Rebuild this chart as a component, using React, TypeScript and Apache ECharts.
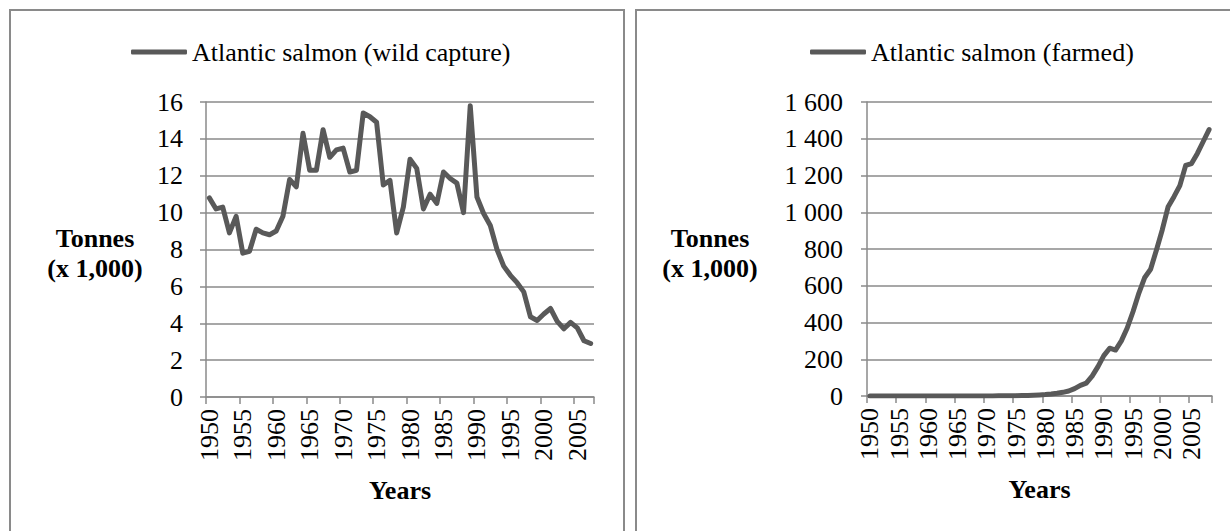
import React, { useEffect, useRef } from "react";
import * as echarts from "echarts";

const yearsWild = [
  "1950","1951","1952","1953","1954","1955","1956","1957","1958","1959",
  "1960","1961","1962","1963","1964","1965","1966","1967","1968","1969",
  "1970","1971","1972","1973","1974","1975","1976","1977","1978","1979",
  "1980","1981","1982","1983","1984","1985","1986","1987","1988","1989",
  "1990","1991","1992","1993","1994","1995","1996","1997","1998","1999",
  "2000","2001","2002","2003","2004","2005","2006","2007",
];
const yearsFarmed = [
  "1950","1951","1952","1953","1954","1955","1956","1957","1958","1959",
  "1960","1961","1962","1963","1964","1965","1966","1967","1968","1969",
  "1970","1971","1972","1973","1974","1975","1976","1977","1978","1979",
  "1980","1981","1982","1983","1984","1985","1986","1987","1988","1989",
  "1990","1991","1992","1993","1994","1995","1996","1997","1998","1999",
  "2000","2001","2002","2003","2004","2005","2006","2007","2008",
];

const wildCapture = [
  10.8, 10.2, 10.3, 8.9, 9.8, 7.8, 7.9, 9.1, 8.9, 8.8,
  9.0, 9.8, 11.8, 11.4, 14.3, 12.3, 12.3, 14.5, 13.0, 13.4,
  13.5, 12.2, 12.3, 15.4, 15.2, 14.9, 11.5, 11.75, 8.9, 10.3,
  12.9, 12.4, 10.2, 11.0, 10.5, 12.2, 11.85, 11.6, 10.0, 15.8,
  10.85, 9.95, 9.3, 8.0, 7.1, 6.6, 6.2, 5.7, 4.35, 4.15,
  4.5, 4.8, 4.1, 3.7, 4.05, 3.75, 3.05, 2.9,
];

const farmed = [
  0, 0, 0, 0, 0, 0, 0, 0, 0, 0,
  0, 0, 0, 0, 0, 0, 0, 0, 0, 0,
  0.3, 0.5, 0.9, 1.3, 1.6, 2, 2.5, 3.2, 4.5, 6,
  8, 11, 15, 20, 27, 40, 58, 70, 108, 160,
  220, 260, 250, 300, 370, 460, 560, 645, 690, 795,
  905, 1030, 1085, 1145, 1255, 1265, 1320, 1385, 1450,
];

const wildName = "Atlantic salmon (wild capture)";
const farmedName = "Atlantic salmon (farmed)";
const yTitle = "Tonnes\n(x 1,000)";
const xTitle = "Years";

const FONT = '"Liberation Serif", "Times New Roman", serif';
const GRID_COLOR = "#8a8a8a";
const LINE_COLOR = "#595959";

function fmtSpace(v: number): string {
  if (v >= 1000) {
    const th = Math.floor(v / 1000);
    const rest = String(v % 1000).padStart(3, "0");
    return th + " " + rest;
  }
  return String(v);
}

export default function App() {
  const ref = useRef<HTMLDivElement>(null);
  useEffect(() => {
    if (!ref.current) return;
    const chart = echarts.init(ref.current, null, { renderer: "svg" });

    const xAxisBase = (gridIndex: number, data: string[]) => ({
      type: "category" as const,
      gridIndex,
      data,
      boundaryGap: true,
      axisLine: { lineStyle: { color: GRID_COLOR, width: 1.5 } },
      axisTick: {
        show: true,
        interval: (i: number) => i % 5 === 0,
        length: 7,
        lineStyle: { color: GRID_COLOR, width: 1.5 },
      },
      axisLabel: {
        interval: 4,
        rotate: 90,
        margin: 12,
        fontSize: 26,
        fontFamily: FONT,
        color: "#000",
      },
      name: xTitle,
      nameLocation: "middle" as const,
      nameGap: 93,
      nameTextStyle: {
        fontSize: 26,
        fontFamily: FONT,
        fontWeight: "bold" as const,
        color: "#000",
        verticalAlign: "middle" as const,
      },
      splitLine: { show: false },
    });

    const yAxisBase = (gridIndex: number, max: number, interval: number, margin: number, formatter?: (v: number) => string) => ({
      type: "value" as const,
      gridIndex,
      min: 0,
      max,
      interval,
      axisLine: { show: true, lineStyle: { color: GRID_COLOR, width: 1.5 } },
      axisTick: { show: true, length: 6, lineStyle: { color: GRID_COLOR, width: 1.5 } },
      axisLabel: {
        fontSize: 26,
        fontFamily: FONT,
        color: "#000",
        margin,
        formatter: formatter,
      },
      splitLine: { show: true, lineStyle: { color: GRID_COLOR, width: 1.5 } },
    });

    const legendBase = (name: string, left: number) => ({
      data: [name],
      left,
      top: 32,
      icon: "roundRect",
      itemWidth: 56,
      itemHeight: 5,
      textStyle: { fontSize: 26, fontFamily: FONT, color: "#000", lineHeight: 30 },
    });

    chart.setOption({
      animation: false,
      backgroundColor: "#ffffff",
      grid: [
        { left: 206, top: 102, width: 388, height: 295 },
        { left: 867, top: 102, width: 345, height: 294 },
      ],
      legend: [legendBase(wildName, 126), legendBase(farmedName, 805)],
      xAxis: [xAxisBase(0, yearsWild), xAxisBase(1, yearsFarmed)],
      yAxis: [
        yAxisBase(0, 16, 2, 23),
        yAxisBase(1, 1600, 200, 24, fmtSpace),
      ],
      series: [
        {
          type: "line",
          name: wildName,
          xAxisIndex: 0,
          yAxisIndex: 0,
          data: wildCapture,
          symbol: "none",
          lineStyle: { color: LINE_COLOR, width: 5, join: "round", cap: "round" },
          itemStyle: { color: LINE_COLOR },
        },
        {
          type: "line",
          name: farmedName,
          xAxisIndex: 1,
          yAxisIndex: 1,
          data: farmed,
          symbol: "none",
          lineStyle: { color: LINE_COLOR, width: 5, join: "round", cap: "round" },
          itemStyle: { color: LINE_COLOR },
        },
      ],
      graphic: [
        {
          type: "rect",
          shape: { x: 10, y: 10, width: 614, height: 560 },
          style: { fill: "none", stroke: GRID_COLOR, lineWidth: 2 },
          silent: true,
        },
        {
          type: "rect",
          shape: { x: 636, y: 10, width: 700, height: 560 },
          style: { fill: "none", stroke: GRID_COLOR, lineWidth: 2 },
          silent: true,
        },
        {
          type: "text",
          x: 95,
          y: 253,
          style: {
            text: yTitle,
            font: "bold 26px " + FONT,
            fill: "#000",
            align: "center",
            verticalAlign: "middle",
            lineHeight: 30,
          },
        },
        {
          type: "text",
          x: 710,
          y: 253,
          style: {
            text: yTitle,
            font: "bold 26px " + FONT,
            fill: "#000",
            align: "center",
            verticalAlign: "middle",
            lineHeight: 30,
          },
        },
      ],
    });
    return () => chart.dispose();
  }, []);

  return (
    <div
      ref={ref}
      style={{ position: "absolute", left: 0, top: 0, width: 1230, height: 531 }}
    />
  );
}
